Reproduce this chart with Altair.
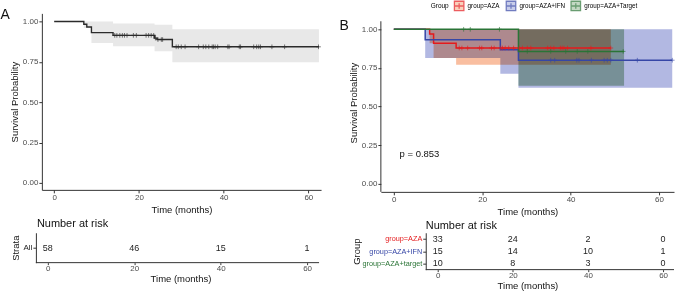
import altair as alt
import pandas as pd

FONT = "Liberation Sans"

# ---------------- Panel A (all patients) ----------------
a_time = [0, 7.0, 7.7, 8.8, 13.9, 23.7, 24.3, 27.9, 62.5]
a_surv = [1.0, 0.983, 0.966, 0.931, 0.914, 0.897, 0.888, 0.843, 0.843]
a_ci_time = [0, 7.0, 8.8, 13.9, 23.7, 27.9, 62.5]
a_ci_upper = [1.0, 1.0, 1.0, 0.988, 0.98, 0.952, 0.952]
a_ci_lower = [1.0, 0.96, 0.866, 0.846, 0.815, 0.748, 0.748]
a_censor = [14.3, 14.8, 15.5, 16.1, 16.6, 17.2, 18.7, 19.4, 21.7, 22.3, 22.9, 23.5,
            23.9, 24.5, 25.3, 25.6, 28.8, 29.3, 30.0, 30.9, 34.1, 35.2, 35.8, 36.5,
            37.3, 37.6, 38.0, 38.6, 41.0, 41.3, 43.7, 44.0, 47.1, 47.8, 48.3, 48.7,
            51.4, 54.4, 62.4]
risk_times = [0, 20, 40, 60]
a_risk = [58, 46, 15, 1]

# ---------------- Panel B (by group) ----------------
groups = ["group=AZA", "group=AZA+IFN", "group=AZA+Target"]
risk_groups = ["group=AZA", "group=AZA+IFN", "group=AZA+target"]
colors = ["#E41A1C", "#3646A6", "#2A7436"]
band_colors = ["#F9BEA0", "#B2B8E2", "#AAC8AA"]

b_time = {
    "group=AZA": [0, 8.1, 9.0, 14.1, 49.1],
    "group=AZA+IFN": [0, 7.1, 24.1, 28.2, 63.0],
    "group=AZA+Target": [0, 28.2, 52.1],
}
b_surv = {
    "group=AZA": [1.0, 0.970, 0.909, 0.879, 0.879],
    "group=AZA+IFN": [1.0, 0.933, 0.867, 0.800, 0.800],
    "group=AZA+Target": [1.0, 0.857, 0.857],
}
b_ci_lower = {
    "group=AZA": [1.0, 0.91, 0.815, 0.770, 0.770],
    "group=AZA+IFN": [1.0, 0.815, 0.712, 0.622, 0.622],
    "group=AZA+Target": [1.0, 0.635, 0.635],
}
b_ci_upper = {
    "group=AZA": [1.0, 1.0, 1.0, 1.0, 1.0],
    "group=AZA+IFN": [1.0, 1.0, 1.0, 1.0, 1.0],
    "group=AZA+Target": [1.0, 1.0, 1.0],
}
b_censor = {
    "group=AZA": [14.8, 15.4, 16.7, 19.4, 19.9, 22.1, 22.7, 24.2, 24.6, 25.2, 26.0,
                  27.1, 28.4, 29.1, 30.2, 31.0, 34.8, 35.5, 36.2, 37.7, 38.1, 38.5,
                  39.3, 44.6, 49.1],
    "group=AZA+IFN": [35.5, 36.4, 41.4, 41.9, 44.7, 47.6, 48.3, 49.1, 55.1, 63.0],
    "group=AZA+Target": [15.8, 17.3, 23.9, 30.2, 35.5, 38.9, 41.5, 43.9, 51.9],
}
b_risk = {
    "group=AZA+target": [10, 8, 3, 0],
    "group=AZA": [33, 24, 2, 0],
    "group=AZA+IFN": [15, 14, 10, 1],
}
p_text = ["p = 0.853"]
p_x = [1.3]
p_y = [0.19]


def step_value(t, times, surv):
    v = surv[0]
    for tt, ss in zip(times, surv):
        if tt <= t:
            v = ss
    return v


CROSS = "M-1,0H1M0,-1V1"
KEY = "M-1,-1H1V1H-1Z M-1,0H1 M0,-0.6V0.6"

# ---------- scale domains (layout) ----------
XA_DOM = [-2.9, 63.0]
YA_DOM = [-0.043, 1.05]
XTA_DOM = [-1.38, 62.77]
XA_TAB_LINE = [-2.77, 62.77]
XB_DOM = [-2.93, 63.4]
YB_DOM = [-0.052, 1.103]
YB_LINE = [-0.052, 1.052]
XTB_DOM = [-15.13, 62.9]
XB_TAB_LINE = [-3.19, 62.9]

# ---------- data frames ----------
dfA_line = pd.DataFrame({"t": a_time, "s": a_surv})
dfA_ci = pd.DataFrame({"t": a_ci_time, "lo": a_ci_lower, "hi": a_ci_upper})
dfA_cen = pd.DataFrame({"t": a_censor, "s": [step_value(t, a_time, a_surv) for t in a_censor]})
dfA_risk = pd.DataFrame({"t": risk_times, "n": a_risk, "strata": ["All"] * 4})

rows_line, rows_ci, rows_cen, rows_risk = [], [], [], []
for g in groups:
    for t, s in zip(b_time[g], b_surv[g]):
        rows_line.append({"g": g, "t": t, "s": s})
    for t, lo, hi in zip(b_time[g], b_ci_lower[g], b_ci_upper[g]):
        rows_ci.append({"g": g, "t": t, "lo": lo, "hi": hi})
    for t in b_censor[g]:
        rows_cen.append({"g": g, "t": t, "s": step_value(t, b_time[g], b_surv[g])})
for g in risk_groups:
    for t, n in zip(risk_times, b_risk[g]):
        rows_risk.append({"g": g, "t": t, "n": n})
dfB_line = pd.DataFrame(rows_line)
dfB_ci = pd.DataFrame(rows_ci)
dfB_cen = pd.DataFrame(rows_cen)
dfB_risk = pd.DataFrame(rows_risk)
dfB_p = pd.DataFrame({"x": p_x, "y": p_y, "label": p_text})


def xaxis(domain=True):
    return alt.Axis(values=risk_times, title="Time (months)", format="d", domain=domain)


def xaxis_tab():
    return alt.Axis(values=risk_times, title="Time (months)", format="d", domain=False,
                    tickSize=2, labelPadding=0, titlePadding=1)


def yaxis(domain=True):
    return alt.Axis(values=[0, 0.25, 0.5, 0.75, 1.0], format=".2f",
                    title="Survival Probability", domain=domain)


def group_legend():
    return alt.Legend(
        title="Group", orient="none", legendX=50, legendY=-13, direction="horizontal",
        titleOrient="left", symbolType=KEY, symbolSize=90,
        symbolStrokeWidth=1.3, labelFontSize=6.3, titleFontSize=6.5, titleFontWeight="normal",
        labelFont=FONT, titleFont=FONT, columnPadding=3, titlePadding=4, labelOffset=3,
        padding=0)


# ---------- Panel A main ----------
xA = alt.X("t:Q", scale=alt.Scale(domain=XA_DOM, nice=False, zero=False), axis=xaxis())
yA_scale = alt.Scale(domain=YA_DOM, nice=False, zero=False)

bandA = alt.Chart(dfA_ci).mark_area(interpolate="step-after", color="#E8E8E8").encode(
    x=xA, y=alt.Y("lo:Q", scale=yA_scale, axis=yaxis()), y2="hi:Q")
lineA = alt.Chart(dfA_line).mark_line(interpolate="step-after", color="#2B2B2B", strokeWidth=1.4).encode(
    x=xA, y=alt.Y("s:Q", scale=yA_scale, axis=yaxis()))
cenA = alt.Chart(dfA_cen).mark_point(shape=CROSS, size=22, filled=False, color="#2B2B2B", strokeWidth=0.9).encode(
    x=xA, y=alt.Y("s:Q", scale=yA_scale, axis=yaxis()))
mainA = alt.layer(bandA, lineA, cenA).properties(
    width=280, height=177,
    title=alt.TitleParams("A", anchor="start", frame="bounds", fontSize=14, fontWeight="normal",
                          dx=-9, offset=-9))

xTA = alt.X("t:Q", scale=alt.Scale(domain=XTA_DOM, nice=False, zero=False), axis=xaxis_tab())
tabA_text = alt.Chart(dfA_risk).mark_text(fontSize=9, font=FONT, color="#222222").encode(
    x=xTA,
    y=alt.Y("strata:N", axis=alt.Axis(title="Strata", labelColor="#222222", offset=6)),
    text="n:Q")
tabA_line = alt.Chart(pd.DataFrame({"a": [XA_TAB_LINE[0]], "b": [XA_TAB_LINE[1]]})).mark_rule(
    color="#333333", strokeWidth=1).encode(x="a:Q", x2="b:Q", y=alt.value(30))
tabA = alt.layer(tabA_text, tabA_line).properties(
    width=278, height=30,
    title=alt.TitleParams("Number at risk", anchor="start", frame="group", fontSize=11,
                          fontWeight="normal", offset=4, dx=-5))

colA = alt.vconcat(mainA, tabA, spacing=3)

# ---------- Panel B main ----------
xB_scale = alt.Scale(domain=XB_DOM, nice=False, zero=False)
xB = alt.X("t:Q", scale=xB_scale, axis=xaxis())
yB_scale = alt.Scale(domain=YB_DOM, nice=False, zero=False)
color_scale = alt.Scale(domain=groups, range=colors)
fill_scale = alt.Scale(domain=groups, range=band_colors)

bandB = alt.Chart(dfB_ci).mark_area(interpolate="step-after", blend="multiply").encode(
    x=xB, y=alt.Y("lo:Q", scale=yB_scale, axis=yaxis(False)), y2="hi:Q",
    fill=alt.Fill("g:N", scale=fill_scale, title="Group", legend=group_legend()))
lineB = alt.Chart(dfB_line).mark_line(interpolate="step-after", strokeWidth=1.5).encode(
    x=xB, y=alt.Y("s:Q", scale=yB_scale, axis=yaxis(False)),
    color=alt.Color("g:N", scale=color_scale, title="Group", legend=group_legend()))
cenB = alt.Chart(dfB_cen).mark_point(shape=CROSS, size=22, filled=False, strokeWidth=0.9).encode(
    x=xB, y=alt.Y("s:Q", scale=yB_scale, axis=yaxis(False)),
    color=alt.Color("g:N", scale=color_scale, title="Group", legend=group_legend()))
pB = alt.Chart(dfB_p).mark_text(align="left", fontSize=9.5, font=FONT, color="#111111").encode(
    x=alt.X("x:Q", scale=xB_scale, axis=xaxis()),
    y=alt.Y("y:Q", scale=yB_scale, axis=yaxis(False)), text="label:N")
yline = alt.Chart(pd.DataFrame({"x": [XB_DOM[0]], "a": [YB_LINE[0]], "b": [YB_LINE[1]]})).mark_rule(
    color="#333333", strokeWidth=1).encode(
    x=alt.X("x:Q", scale=xB_scale, axis=xaxis()),
    y=alt.Y("a:Q", scale=yB_scale, axis=yaxis(False)), y2="b:Q")
mainB = alt.layer(bandB, lineB, cenB, pB, yline).properties(
    width=294, height=179,
    title=alt.TitleParams("B", anchor="start", frame="bounds", fontSize=14, fontWeight="normal",
                          dx=-9, dy=21, offset=-12))

label_color = {
    "condition": [
        {"test": "datum.value === 'group=AZA'", "value": colors[0]},
        {"test": "datum.value === 'group=AZA+IFN'", "value": colors[1]},
    ],
    "value": colors[2],
}
xTB = alt.X("t:Q", scale=alt.Scale(domain=XTB_DOM, nice=False, zero=False), axis=xaxis_tab())
tabB_text = alt.Chart(dfB_risk).mark_text(fontSize=9, font=FONT, color="#222222").encode(
    x=xTB,
    y=alt.Y("g:N", sort=risk_groups, axis=alt.Axis(title="Group", labelColor=label_color,
                                                   labelFontSize=7.3, offset=-45, titlePadding=0)),
    text="n:Q")
tabB_line = alt.Chart(pd.DataFrame({"a": [XB_TAB_LINE[0]], "b": [XB_TAB_LINE[1]]})).mark_rule(
    color="#333333", strokeWidth=1).encode(x="a:Q", x2="b:Q", y=alt.value(37))
tabB = alt.layer(tabB_text, tabB_line).properties(
    width=294, height=37,
    title=alt.TitleParams("Number at risk", anchor="start", frame="group", fontSize=11,
                          fontWeight="normal", offset=2, dx=45))

colB = alt.vconcat(mainB, tabB, spacing=3).resolve_scale(
    color="independent", fill="independent").resolve_legend(color="independent", fill="independent")

chart = alt.hconcat(colA, colB, spacing=16).resolve_scale(
    color="independent", fill="independent").resolve_legend(
    color="independent", fill="independent").properties(
    padding={"left": 0, "top": 0, "right": 0, "bottom": 0}
).configure_view(stroke=None).configure_axis(
    grid=False, labelFont=FONT, titleFont=FONT, labelFontSize=8, labelColor="#4D4D4D",
    titleFontSize=9.5, titleFontWeight="normal", titleColor="#111111",
    domainColor="#333333", tickColor="#333333", tickSize=3, labelPadding=1, titlePadding=3
).configure_title(font=FONT, color="#111111").configure_text(font=FONT)

chart.save("out.html", embed_options={"renderer": "svg", "actions": False})
